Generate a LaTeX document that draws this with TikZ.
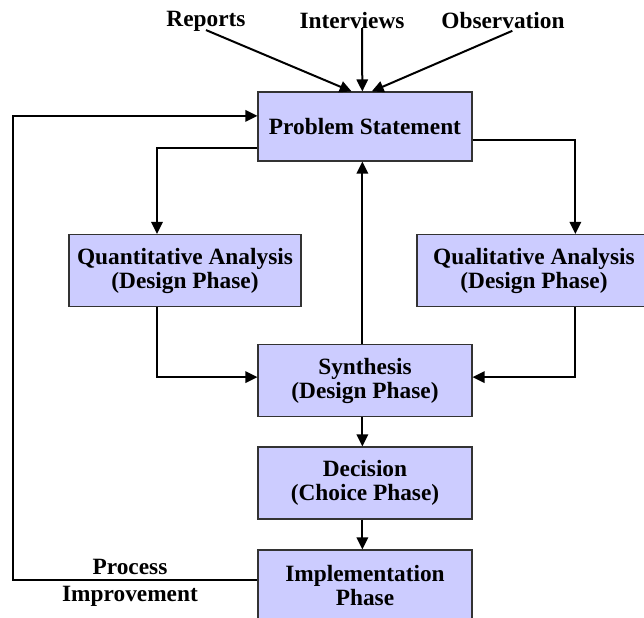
\documentclass[tikz,border=0pt]{standalone}
\usepackage{fontspec}
\setmainfont{Liberation Serif}
\usetikzlibrary{arrows.meta,positioning}
\definecolor{boxfill}{RGB}{204,204,255}
\tikzset{
  phase/.style={draw=black!80, fill=boxfill, line width=0.8pt, align=center,
    minimum width=160.5pt, minimum height=54pt, inner sep=0pt,
    font=\fontsize{17.5}{18}\selectfont\bfseries},
  lbl/.style={align=center, inner sep=1pt, font=\fontsize{17.5}{18}\selectfont\bfseries},
  flow/.style={line width=1.5pt, -{Triangle[length=9pt,width=8.5pt]}}
}
\begin{document}
\begin{tikzpicture}[x=0.75pt,y=-0.75pt]
\useasboundingbox (0,0) rectangle (644,618);
% inputs
\node[lbl] (rep) at (206,21) {Reports};
\node[lbl] (int) at (352,21) {Interviews};
\node[lbl] (obs) at (503,21) {Observation};
% phases
\node[phase, minimum height=51.75pt] (prob) at (365,126.5) {Problem Statement};
\node[phase, minimum width=174pt] (quant) at (185,270.5) {Quantitative Analysis\\(Design Phase)};
\node[phase, minimum width=175.5pt] (qual) at (534,270.5) {Qualitative Analysis\\(Design Phase)};
\node[phase] (synth) at (365,380.5) {Synthesis\\(Design Phase)};
\node[phase] (dec) at (365,483) {Decision\\(Choice Phase)};
\node[phase] (impl) at (365,586) {Implementation\\Phase};
\node[lbl, font=\fontsize{17.5}{20}\selectfont\bfseries] (imp) at (130,583) {Process\\Improvement};
% connectors
\draw[flow] ([yshift=2pt]rep.south) -- ([xshift=-10pt]prob.north);
\draw[flow] ([xshift=7.5pt,yshift=2pt]int.south) -- ([xshift=-2pt]prob.north);
\draw[flow] ([xshift=7pt,yshift=0pt]obs.south) -- ([xshift=5pt]prob.north);
\draw[flow] ([yshift=-16pt]prob.west) -| ([xshift=-21pt]quant.north);
\draw[flow] ([yshift=-10pt]prob.east) -| ([xshift=31pt]qual.north);
\draw[flow] ([xshift=-21pt]quant.south) |- ([yshift=2.5pt]synth.west);
\draw[flow] ([xshift=31pt]qual.south) |- ([yshift=2.5pt]synth.east);
\draw[flow] ([xshift=-2pt]synth.north) -- ([xshift=-2pt]prob.south);
\draw[flow] ([xshift=-2pt]synth.south) -- ([xshift=-2pt]dec.north);
\draw[flow] ([xshift=-2pt]dec.south) -- ([xshift=-2pt]impl.north);
\draw[flow] ([yshift=4.5pt]impl.west) -- ++(-183pt,0) |- ([yshift=8pt]prob.west);
\end{tikzpicture}
\end{document}
